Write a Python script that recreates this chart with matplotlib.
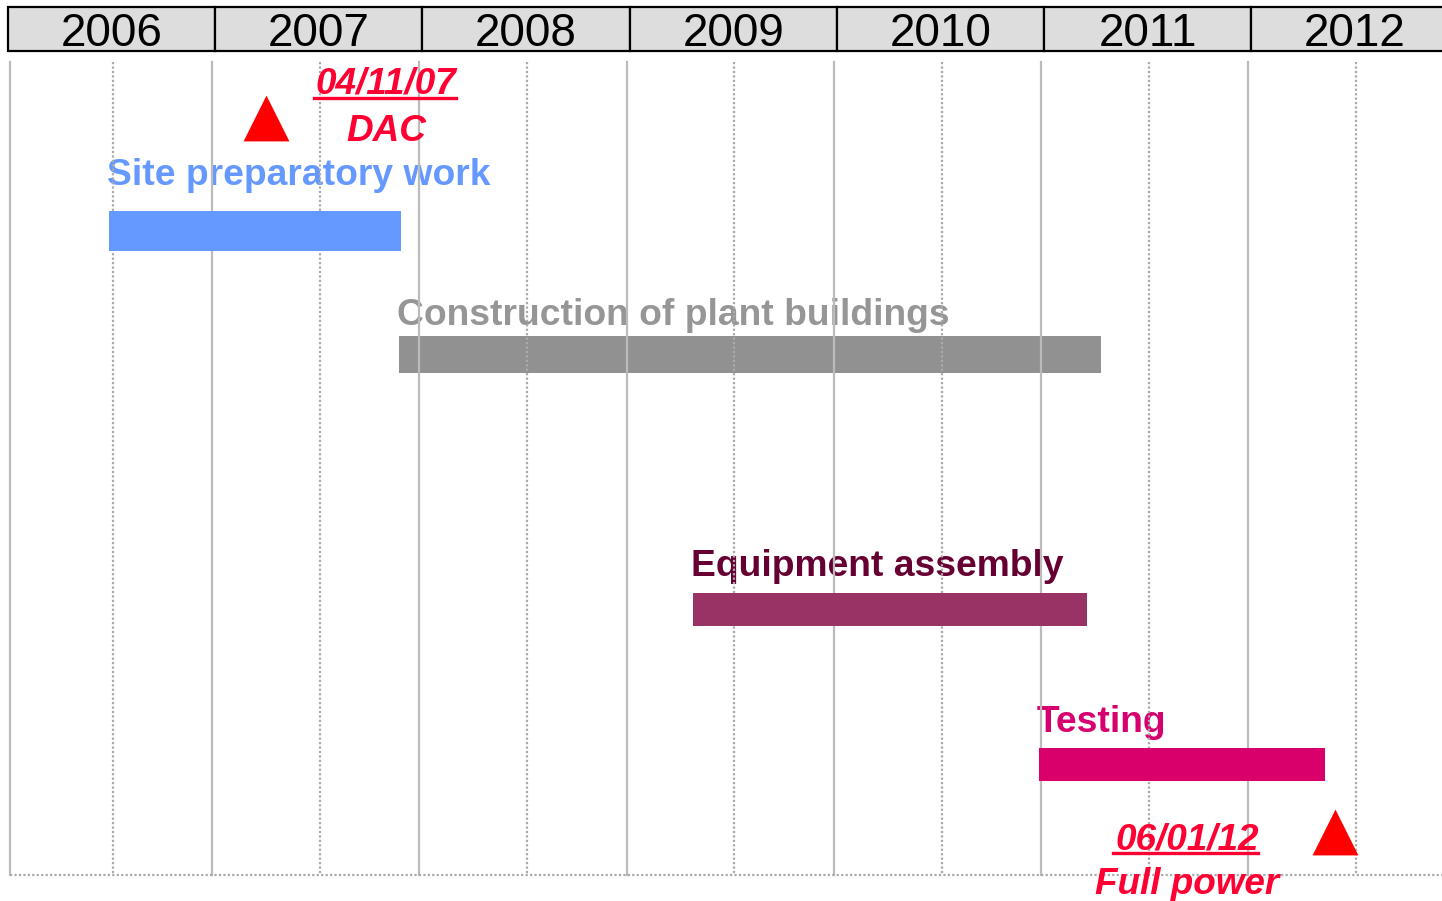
import matplotlib.pyplot as plt
from matplotlib.patches import Rectangle

plt.rcParams["font.family"] = ["Liberation Sans", "DejaVu Sans"]

# Timeline data (decimal years)
years = [2006, 2007, 2008, 2009, 2010, 2011, 2012]
tasks = ["Site preparatory work", "Construction of plant buildings", "Equipment assembly", "Testing"]
task_start = [2006.50, 2007.90, 2009.32, 2010.99]
task_end = [2007.91, 2011.29, 2011.22, 2012.37]
bar_colors = ["#6699FF", "#919191", "#993366", "#D9006C"]
text_colors = ["#6699FF", "#969696", "#660033", "#D6006E"]

milestone_dates = ["04/11/07", "06/01/12"]
milestone_names = ["DAC", "Full power"]
milestone_pos = [2007.26, 2012.42]

# layout (vertical, in pixels from top)
bar_y = [231, 354.5, 609.5, 764.5]
bar_h = [40, 37, 33, 33]
label_base = [185, 325, 576, 732]
tri_y = [118, 832]
ms_text_x = [2007.84, 2011.705]
ms_date_base = [94, 849]
ms_name_base = [141, 894]

PX = 207.2
X0 = 5  # pixel of 2006.0
fig = plt.figure(figsize=(14.42, 9.01), dpi=100)
ax = fig.add_axes([0, 0, 1, 1])
ax.set_xlim(2006 - X0 / PX, 2006 + (1442 - X0) / PX)
ax.set_ylim(901, 0)
ax.axis("off")

# header
hoff = 3 / PX
for y in years:
    ax.add_patch(Rectangle((y + hoff, 7), 1.0, 44,
                           facecolor="#DDDDDD", edgecolor="black", lw=1.6, zorder=4))
    ax.text(y + hoff + 0.5, 34, str(y), ha="center", va="center", fontsize=33, color="black", zorder=5)

# grid
grid_c = "#BBBBBB"
left = 2006 + 5 / PX
ax.plot([left, left], [62, 875], color=grid_c, lw=1.6, zorder=2)
for y in years:
    if y > 2006:
        ax.plot([y, y], [62, 875], color=grid_c, lw=1.6, zorder=2)
    ax.plot([y + 0.52, y + 0.52], [62, 875], color="#AAAAAA", lw=1.6, ls=(0, (1, 1)), zorder=2)
ax.plot([left, 2006 + (1442 - X0) / PX], [875, 875], color="#AAAAAA", lw=1.6, ls=(0, (1, 1)), zorder=2)

# bars and labels
for i, name in enumerate(tasks):
    ax.barh(bar_y[i], task_end[i] - task_start[i], left=task_start[i], height=bar_h[i],
            color=bar_colors[i], zorder=1 if i == 1 else 3)
    ax.text(task_start[i] - 0.01, label_base[i], name, ha="left", va="baseline",
            fontsize=26.8, fontweight="bold", color=text_colors[i], zorder=1)

# milestones
red = "#FF0033"
ax.scatter(milestone_pos, tri_y, marker="^", s=33 ** 2, color="#FF0000", linewidths=0, zorder=5)
fig.canvas.draw()
r = fig.canvas.get_renderer()
for i in range(len(milestone_dates)):
    t = ax.text(ms_text_x[i], ms_date_base[i], milestone_dates[i], ha="center", va="baseline",
                fontsize=26.6, fontweight="bold", style="italic", color=red, zorder=5)
    ax.text(ms_text_x[i], ms_name_base[i], milestone_names[i], ha="center", va="baseline",
            fontsize=26.6, fontweight="bold", style="italic", color=red, zorder=5)
    bb = t.get_window_extent(r).transformed(ax.transData.inverted())
    ax.plot([bb.x0 - 0.01, bb.x1 - 0.005], [ms_date_base[i] + 3.5] * 2, color=red, lw=2.4, zorder=5)

fig.savefig("out.png", dpi=100, facecolor="white")
